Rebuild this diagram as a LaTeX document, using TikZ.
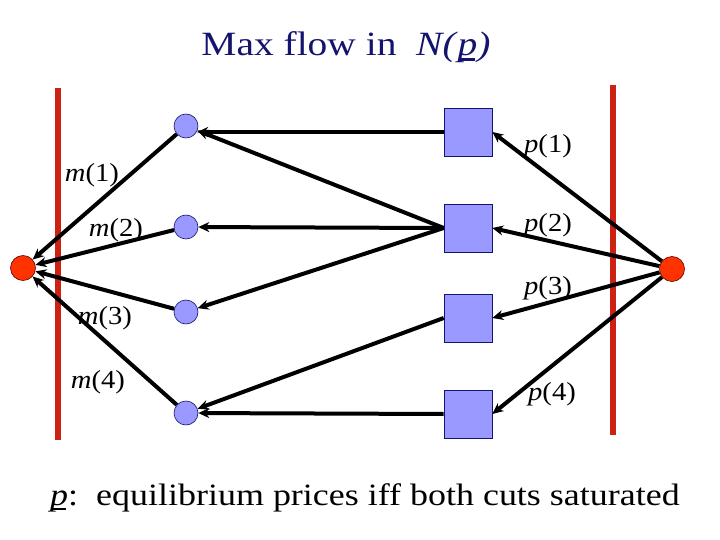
\documentclass[tikz,border=0pt]{standalone}
\usepackage{fontspec}
\setmainfont{Liberation Serif}
\usetikzlibrary{arrows.meta}
\definecolor{navy}{RGB}{20,20,110}
\definecolor{nodefill}{RGB}{153,153,255}
\definecolor{barred}{RGB}{204,34,17}
\definecolor{termred}{RGB}{255,51,0}
\newcommand{\thickul}[2]{\leavevmode\setbox0\hbox{#2}\rlap{\kern0.08\wd0\color{#1}\rule[-0.16em]{0.8\wd0}{0.075em}}\box0}
\begin{document}
\begin{tikzpicture}[x=1pt,y=-1pt,
  flow/.style={line width=4pt, -{Stealth[length=11pt,width=10pt]}},
  cutbar/.style={line width=6.5pt, barred},
  circ/.style={circle, draw=navy, fill=nodefill, minimum size=24pt, inner sep=0pt, line width=0.6pt},
  sqbox/.style={rectangle, draw=navy, fill=nodefill, minimum size=48pt, inner sep=0pt, line width=0.6pt},
  term/.style={circle, draw=black!60!red, fill=termred, minimum size=25pt, inner sep=0pt, line width=0.6pt},
  lbl/.style={font=\fontsize{26}{28}\selectfont, xscale=1.1, inner sep=0pt},
  big/.style={font=\fontsize{31}{36}\selectfont, xscale=1.16, inner sep=0pt},
  ttl/.style={font=\fontsize{34}{40}\selectfont, xscale=1.16, inner sep=0pt}
]
\useasboundingbox (0,0) rectangle (720,540);

% title
\node[ttl, text=navy] (title) at (346,47) {Max flow in\ \ \textit{N(}\thickul{navy}{\textit{p}}\textit{)}};

% cut bars
\coordinate (lbt) at (58,88);
\coordinate (lbb) at (58,440);
\coordinate (rbt) at (613,85);
\coordinate (rbb) at (613,435);
\draw[cutbar] (lbt) -- (lbb);
\draw[cutbar] (rbt) -- (rbb);

% nodes
\node[term] (sink) at (23,268) {};
\node[term] (src) at (672,269) {};
\node[circ] (c1) at (186,126) {};
\node[circ] (c2) at (186,227) {};
\node[circ] (c3) at (186,312) {};
\node[circ] (c4) at (186,413) {};
\node[sqbox] (s1) at (468,132) {};
\node[sqbox] (s2) at (468,228) {};
\node[sqbox] (s3) at (468,318) {};
\node[sqbox] (s4) at (468,414) {};

% arrows: source to squares
\draw[flow] (src) -- (s1.east);
\draw[flow] (src) -- (s2.east);
\draw[flow] (src) -- (s3.east);
\draw[flow] (src) -- (s4.east);

% squares to circles
\draw[flow] (s1.west) -- (c1.-25 |- s1.west);
\draw[flow] (s2.west) -- (c1);
\draw[flow] (s2.west) -- (c2);
\draw[flow] (s2.west) -- (c3);
\draw[flow] (s3.west) -- (c4);
\draw[flow] (s4.west) -- (c4);

% circles to sink
\draw[flow] (c1) -- (sink);
\draw[flow] (c2) -- (sink);
\draw[flow] (c3) -- (sink);
\draw[flow] (c4) -- (sink);

% labels
\node[lbl] (m1) at (92,175) {\textit{m}(1)};
\node[lbl] (m2) at (116,230) {\textit{m}(2)};
\node[lbl] (m3) at (105,318) {\textit{m}(3)};
\node[lbl] (m4) at (98,382) {\textit{m}(4)};
\node[lbl] (p1) at (548,146) {\textit{p}(1)};
\node[lbl] (p2) at (548,225) {\textit{p}(2)};
\node[lbl] (p3) at (548,288) {\textit{p}(3)};
\node[lbl] (p4) at (552,394) {\textit{p}(4)};

% bottom text
\node[big, anchor=base west] (foot) at (50,505) {\thickul{black}{\textit{p}}:\ \ equilibrium prices iff both cuts saturated};
\end{tikzpicture}
\end{document}
